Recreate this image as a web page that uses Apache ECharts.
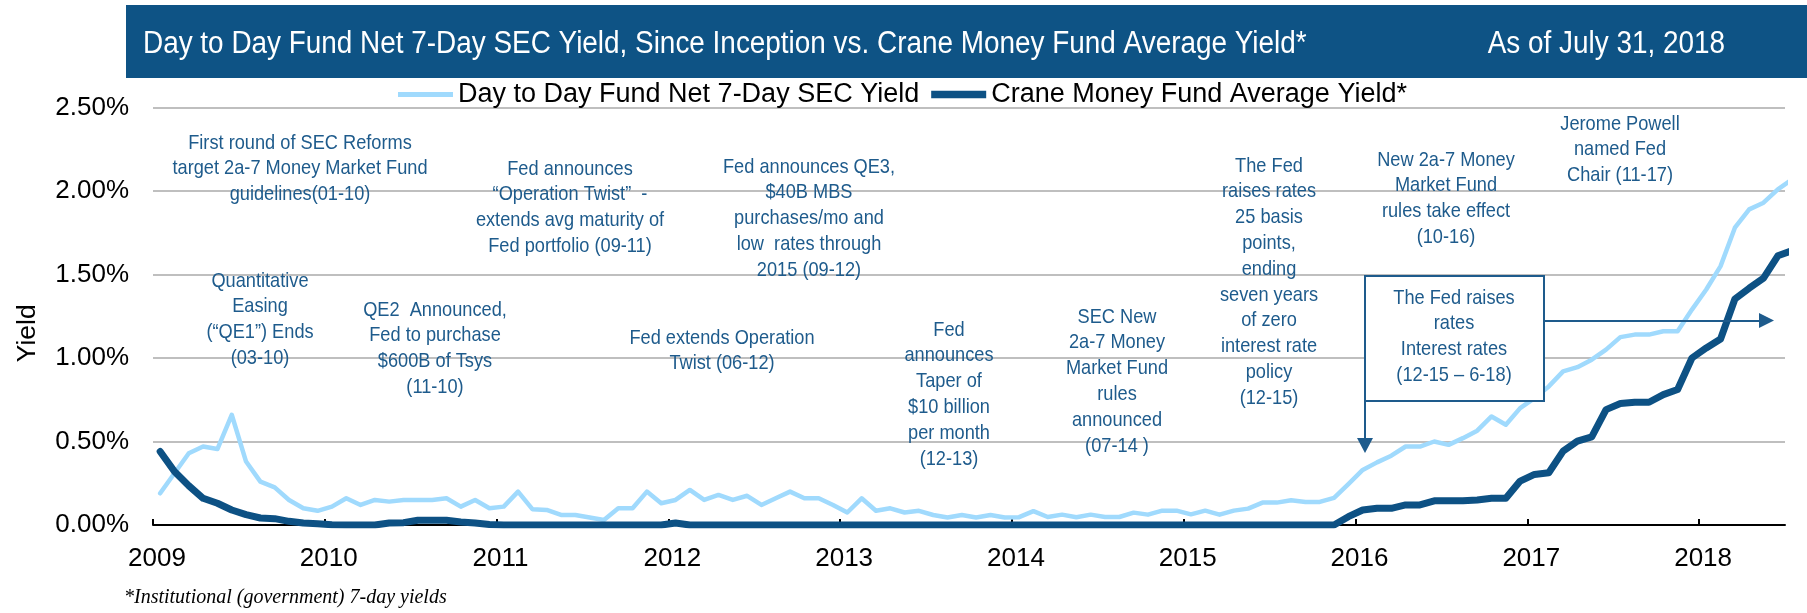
<!DOCTYPE html>
<html>
<head>
<meta charset="utf-8">
<script src="https://cdn.jsdelivr.net/npm/echarts@6/dist/echarts.min.js"></script>
<style>
  html, body { margin: 0; padding: 0; background: #fff; }
  #main { width: 1807px; height: 613px; }
</style>
</head>
<body>
<div id="main"></div>
<script>
// monthly yields in %, Jan 2009 .. Jul 2018
var years = [2009, 2010, 2011, 2012, 2013, 2014, 2015, 2016, 2017, 2018]
var yTicks = [0, 0.5, 1, 1.5, 2, 2.5]
var seriesNames = ['Day to Day Fund Net 7-Day SEC Yield', 'Crane Money Fund Average Yield*']

var dayToDay = [
  0.19, 0.31, 0.43, 0.47, 0.455, 0.66, 0.38, 0.26, 0.225, 0.15, 0.10, 0.085,
  0.11, 0.16, 0.12, 0.15, 0.14, 0.15, 0.15, 0.15, 0.16, 0.11, 0.15, 0.10,
  0.11, 0.20, 0.095, 0.09, 0.06, 0.06, 0.045, 0.03, 0.10, 0.10, 0.20, 0.13,
  0.15, 0.21, 0.15, 0.18, 0.15, 0.175, 0.12, 0.16, 0.20, 0.16, 0.16, 0.12,
  0.075, 0.16, 0.085, 0.10, 0.075, 0.085, 0.06, 0.045, 0.06, 0.045, 0.06, 0.045,
  0.047, 0.083, 0.048, 0.062, 0.046, 0.062, 0.048, 0.048, 0.074, 0.062, 0.086, 0.086,
  0.064, 0.086, 0.062, 0.086, 0.098, 0.134, 0.134, 0.148, 0.138, 0.138, 0.162, 0.245,
  0.33, 0.375, 0.415, 0.47, 0.47, 0.50, 0.48, 0.52, 0.565, 0.65, 0.60, 0.70,
  0.76, 0.83, 0.92, 0.945, 0.99, 1.05, 1.125, 1.14, 1.14, 1.16, 1.16, 1.29,
  1.41, 1.55, 1.78, 1.89, 1.93, 2.01, 2.07
]
var crane = [
  0.44, 0.32, 0.235, 0.16, 0.13, 0.09, 0.062, 0.042, 0.038, 0.022, 0.012, 0.008,
  0.002, 0, 0, 0, 0.012, 0.014, 0.028, 0.028, 0.028, 0.018, 0.012, 0.003,
  0, 0, 0, 0, 0, 0, 0, 0, 0, 0, 0, 0,
  0.012, 0, 0, 0, 0, 0, 0, 0, 0, 0, 0, 0,
  0, 0, 0, 0, 0, 0, 0, 0, 0, 0, 0, 0,
  0, 0, 0, 0, 0, 0, 0, 0, 0, 0, 0, 0,
  0, 0, 0, 0, 0, 0, 0, 0, 0, 0, 0, 0.05,
  0.09, 0.10, 0.10, 0.12, 0.12, 0.145, 0.145, 0.145, 0.15, 0.16, 0.16, 0.263,
  0.303, 0.313, 0.442, 0.502, 0.528, 0.691, 0.727, 0.735, 0.735, 0.781, 0.811, 1.00,
  1.06, 1.114, 1.353, 1.418, 1.478, 1.612, 1.643
]

var annotations = [
  { x: 300, y: 130, text: 'First round of SEC Reforms\ntarget 2a-7 Money Market Fund\nguidelines(01-10)' },
  { x: 260, y: 268, text: 'Quantitative\nEasing\n(\u201cQE1\u201d) Ends\n(03-10)' },
  { x: 435, y: 297, text: 'QE2  Announced,\nFed to purchase\n$600B of Tsys\n(11-10)' },
  { x: 570, y: 156, text: 'Fed announces\n\u201cOperation Twist\u201d  -\nextends avg maturity of\nFed portfolio (09-11)' },
  { x: 809, y: 154, text: 'Fed announces QE3,\n$40B MBS\npurchases/mo and\nlow  rates through\n2015 (09-12)' },
  { x: 722, y: 325, text: 'Fed extends Operation\nTwist (06-12)' },
  { x: 949, y: 317, text: 'Fed\nannounces\nTaper of\n$10 billion\nper month\n(12-13)' },
  { x: 1117, y: 304, text: 'SEC New\n2a-7 Money\nMarket Fund\nrules\nannounced\n(07-14 )' },
  { x: 1269, y: 153, text: 'The Fed\nraises rates\n25 basis\npoints,\nending\nseven years\nof zero\ninterest rate\npolicy\n(12-15)' },
  { x: 1446, y: 147, text: 'New 2a-7 Money\nMarket Fund\nrules take effect\n(10-16)' },
  { x: 1620, y: 111, text: 'Jerome Powell\nnamed Fed\nChair (11-17)' },
  { x: 1454, y: 285, text: 'The Fed raises\nrates\nInterest rates\n(12-15 \u2013 6-18)' }
]

var sans = "'Liberation Sans', Arial, sans-serif"
var noteColor = '#1E5B8C'
var lightBlue = '#A0DAFD'
var navy = '#0D5184'

function toPoints(arr) {
  return arr.map(function (v, i) { return [i + 0.5, v] })
}
var yearTicks = years.map(function (y) { return (y - years[0]) * 12 })

var graphics = [
  { type: 'rect', shape: { x: 126, y: 5, width: 1681, height: 73 }, style: { fill: '#0E5385' }, z: 1 },
  {
    type: 'text', x: 143, y: 44, scaleX: 0.9, z: 2,
    style: { text: 'Day to Day Fund Net 7-Day SEC Yield, Since Inception vs. Crane Money Fund Average Yield*', fill: '#fff', font: '31px ' + sans, textVerticalAlign: 'middle' }
  },
  {
    type: 'text', x: 1725, y: 44, scaleX: 0.9, z: 2,
    style: { text: 'As of July 31, 2018', fill: '#fff', font: '31px ' + sans, textAlign: 'right', textVerticalAlign: 'middle' }
  },
  // box with arrows
  { type: 'rect', shape: { x: 1365, y: 276, width: 179, height: 125 }, style: { fill: '#fff', stroke: noteColor, lineWidth: 2 }, z: 50 },
  { type: 'line', shape: { x1: 1365, y1: 392, x2: 1365, y2: 442 }, style: { stroke: noteColor, lineWidth: 2 }, z: 50 },
  { type: 'polygon', shape: { points: [[1357, 438], [1373, 438], [1365, 453]] }, style: { fill: noteColor }, z: 50 },
  { type: 'line', shape: { x1: 1544, y1: 321, x2: 1762, y2: 321 }, style: { stroke: noteColor, lineWidth: 2 }, z: 50 },
  { type: 'polygon', shape: { points: [[1759, 313], [1759, 328], [1774, 320.5]] }, style: { fill: noteColor }, z: 50 },
  {
    type: 'text', x: 124, y: 598, z: 2,
    style: { text: '*Institutional (government) 7-day yields', fill: '#000', font: 'italic 20px "Liberation Serif", serif', textVerticalAlign: 'middle' }
  }
]
annotations.forEach(function (a) {
  graphics.push({
    type: 'text', x: a.x, y: a.y, scaleX: 0.867, z: 60,
    style: { text: a.text, fill: noteColor, font: '21px ' + sans, textAlign: 'center', textVerticalAlign: 'top', lineHeight: 25.8 }
  })
})

var chart = echarts.init(document.getElementById('main'))
var option = {
  animation: false,
  backgroundColor: '#fff',
  grid: { left: 153, right: 22, top: 107.5, bottom: 88, outerBoundsMode: 'none' },
  legend: {
    left: 398, top: 81, padding: 0, itemWidth: 55, itemHeight: 14, itemGap: 12,
    textStyle: { fontSize: 27, color: '#000', fontFamily: sans },
    data: [
      { name: seriesNames[0], icon: 'path://M0,0H55V5H0Z' },
      { name: seriesNames[1], icon: 'path://M0,0H55V7.5H0Z' }
    ]
  },
  xAxis: {
    type: 'value',
    min: 0,
    max: dayToDay.length - 1,
    axisLine: { lineStyle: { color: '#000', width: 2 } },
    axisTick: { inside: true, length: 6, customValues: yearTicks, lineStyle: { color: '#000', width: 2 } },
    axisLabel: {
      customValues: yearTicks,
      formatter: function (v) { return String(years[0] + Math.round(v / 12)) },
      fontSize: 26, fontFamily: sans, color: '#000', margin: 21, padding: [0, 0, 0, 8]
    },
    splitLine: { show: false }
  },
  yAxis: {
    type: 'value',
    min: yTicks[0],
    max: yTicks[yTicks.length - 1],
    interval: 0.5,
    name: 'Yield',
    nameLocation: 'middle',
    nameRotate: 90,
    nameGap: 112,
    nameTextStyle: { fontSize: 26.5, color: '#000', fontFamily: sans, padding: [0, 34, 0, 0] },
    axisLine: { show: false },
    axisTick: { show: false },
    axisLabel: {
      formatter: function (v) { return v.toFixed(2) + '%' },
      fontSize: 26, fontFamily: sans, color: '#000', margin: 24
    },
    splitLine: { lineStyle: { color: '#BFBFBF', width: 2 } }
  },
  series: [
    {
      name: seriesNames[0],
      type: 'line',
      data: toPoints(dayToDay),
      symbol: 'none',
      z: 3,
      lineStyle: { color: lightBlue, width: 4.5, join: 'round', cap: 'round' },
      itemStyle: { color: lightBlue }
    },
    {
      name: seriesNames[1],
      type: 'line',
      data: toPoints(crane),
      symbol: 'none',
      z: 4,
      lineStyle: { color: navy, width: 7, join: 'round', cap: 'round' },
      itemStyle: { color: navy }
    }
  ],
  graphic: { elements: graphics }
}
chart.setOption(option)
</script>
</body>
</html>
